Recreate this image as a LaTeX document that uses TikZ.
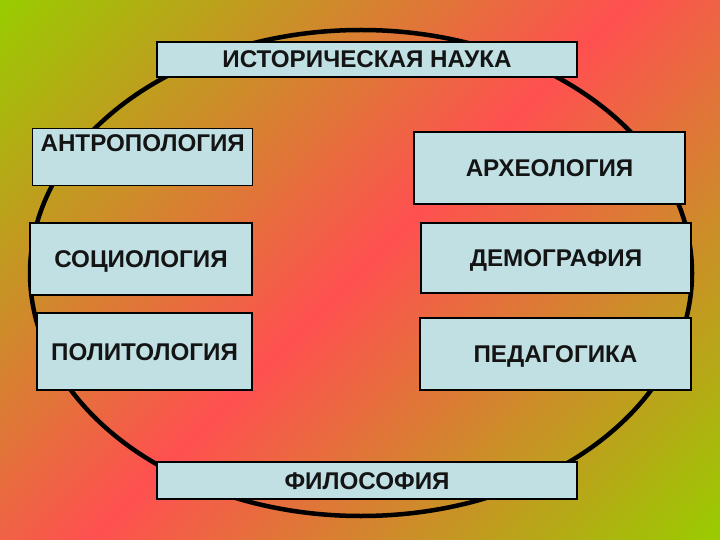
\documentclass[tikz,border=0pt]{standalone}
\usepackage{fontspec}
\setmainfont{Liberation Sans}
\definecolor{bgG}{RGB}{153,204,0}
\definecolor{bgR}{RGB}{255,80,80}
\definecolor{boxfill}{RGB}{192,224,228}
\pgfdeclarehorizontalshading{bgshade}{100bp}{color(0bp)=(bgG); color(14.64bp)=(bgG); color(50bp)=(bgR); color(85.36bp)=(bgG); color(100bp)=(bgG)}
\begin{document}
\begin{tikzpicture}[x=1pt,y=-1pt,
  box/.style={draw=black, line width=1.4pt, fill=boxfill, inner sep=0pt,
    font=\fontsize{24.2}{28}\selectfont\bfseries, text=black!92},
  ctr/.style={box, text height=17pt, text depth=-1pt}]
\useasboundingbox (0,0) rectangle (720,540);
\shade[shading=bgshade, shading angle=-45] (0,0) rectangle (720,540);
\draw[line width=4.5pt] (361,273) ellipse [x radius=331, y radius=243];
\node[ctr, minimum width=420pt, minimum height=35pt] (hist) at (367,59.5) {ИСТОРИЧЕСКАЯ НАУКА};
\node[box, anchor=north west, minimum width=220pt, text height=23pt, text depth=34pt] (antro) at (32,128) {АНТРОПОЛОГИЯ};
\node[ctr, minimum width=271pt, minimum height=72pt] (arch) at (549.5,168) {АРХЕОЛОГИЯ};
\node[ctr, minimum width=222pt, minimum height=72pt] (socio) at (141,259) {СОЦИОЛОГИЯ};
\node[ctr, minimum width=270pt, minimum height=70pt] (demo) at (556,258) {ДЕМОГРАФИЯ};
\node[ctr, minimum width=215pt, minimum height=77pt] (polit) at (144.5,351.5) {ПОЛИТОЛОГИЯ};
\node[ctr, minimum width=271pt, minimum height=72pt] (ped) at (555.5,354) {ПЕДАГОГИКА};
\node[ctr, minimum width=420pt, minimum height=37pt] (philo) at (367,480.5) {ФИЛОСОФИЯ};
\end{tikzpicture}
\end{document}
